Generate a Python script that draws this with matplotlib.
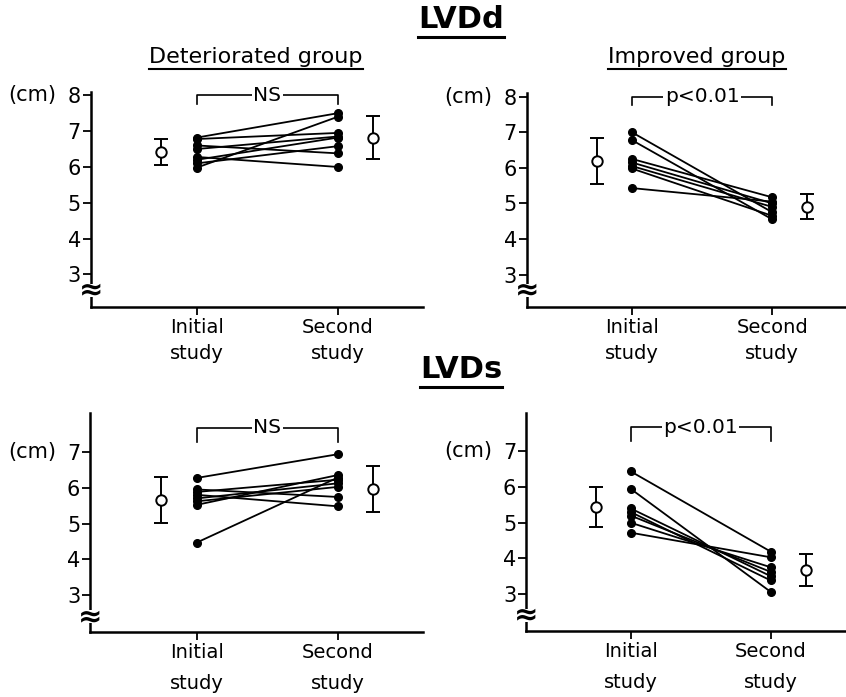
import numpy as np
import matplotlib.pyplot as plt
from matplotlib.lines import Line2D

# ---- data (cm) ----
groups = ['Deteriorated group', 'Improved group']
studies = ['Initial\nstudy', 'Second\nstudy']

lvdd_det_initial = [6.82, 5.98, 6.78, 6.50, 6.10, 6.60, 6.28, 6.20]
lvdd_det_second = [7.50, 7.40, 6.95, 6.85, 6.58, 6.38, 6.00, 6.82]
lvdd_det_mean = [6.41, 6.81]
lvdd_det_sd = [0.36, 0.60]

lvdd_imp_initial = [7.00, 6.78, 6.25, 6.15, 6.05, 5.98, 5.43]
lvdd_imp_second = [4.75, 4.55, 5.17, 5.00, 4.90, 4.65, 5.05]
lvdd_imp_mean = [6.20, 4.91]
lvdd_imp_sd = [0.65, 0.34]

lvds_det_initial = [6.27, 5.95, 5.88, 5.80, 5.70, 5.62, 5.52, 4.47]
lvds_det_second = [6.93, 5.74, 6.22, 5.48, 6.12, 6.02, 6.35, 6.28]
lvds_det_mean = [5.66, 5.96]
lvds_det_sd = [0.645, 0.63]

lvds_imp_initial = [6.44, 5.95, 5.40, 5.30, 5.20, 5.00, 4.72]
lvds_imp_second = [4.19, 3.06, 3.50, 3.38, 3.62, 3.75, 4.03]
lvds_imp_mean = [5.44, 3.67]
lvds_imp_sd = [0.565, 0.44]

sig_labels = ['NS', 'p<0.01']


def draw_panel(ax, initial, second, mean, sd, sig, ylim, yticks, br_top, br_bot,
               brk_y, xlim, lsp):
    for a, b in zip(initial, second):
        ax.plot([1, 2], [a, b], color='black', lw=1.3, marker='o', ms=5.5,
                mfc='black', mec='black', clip_on=False, zorder=3)
    ax.errorbar([0.75, 2.25], mean, yerr=sd, fmt='o', ms=7.5, mfc='white',
                mec='black', mew=1.4, ecolor='black', elinewidth=1.4,
                capsize=5, capthick=1.4, zorder=4)
    # bracket with significance label
    ax.plot([1, 1, 2, 2], [br_bot, br_top, br_top, br_bot], color='black',
            lw=1.2, clip_on=False)
    ax.text(1.5, br_top, sig, ha='center', va='center', fontsize=14.5,
            bbox=dict(facecolor='white', edgecolor='none', pad=1.0))
    ax.set_xlim(*xlim)
    ax.set_ylim(*ylim)
    ax.set_yticks(yticks)
    ax.set_yticklabels([str(t) for t in yticks], fontsize=15)
    ax.set_xticks([1, 2])
    ax.set_xticklabels(studies, fontsize=14, linespacing=lsp)
    ax.tick_params(axis='y', length=6, width=1.3, pad=1)
    ax.tick_params(axis='x', length=6, width=1.3, pad=2)
    for s in ['top', 'right']:
        ax.spines[s].set_visible(False)
    for s in ['left', 'bottom']:
        ax.spines[s].set_linewidth(1.8)
    ax.annotate('(cm)', xy=(0, yticks[-1]), xycoords=ax.get_yaxis_transform(),
                xytext=(-34, 0), textcoords='offset pixels', ha='right',
                va='center', fontsize=15)
    # axis break mark
    ax.text(0, brk_y, '≈', transform=ax.get_yaxis_transform(), ha='center',
            va='center', fontsize=21, fontweight='bold', zorder=5,
            bbox=dict(facecolor='white', edgecolor='none', pad=-5.5))


fig = plt.figure(figsize=(8.46, 6.97), dpi=100)

ax_tl = fig.add_axes([0.1072, 0.5600, 0.3928, 0.3084])
ax_tr = fig.add_axes([0.6226, 0.5600, 0.3774, 0.3066])
ax_bl = fig.add_axes([0.1064, 0.0928, 0.3936, 0.3142])
ax_br = fig.add_axes([0.6217, 0.0951, 0.3783, 0.3120])

draw_panel(ax_tl, lvdd_det_initial, lvdd_det_second, lvdd_det_mean, lvdd_det_sd,
           sig_labels[0], (2.1, 8.1), [3, 4, 5, 6, 7, 8], 8.0, 7.75, 2.55,
           (0.248, 2.605), 1.45)
draw_panel(ax_tr, lvdd_imp_initial, lvdd_imp_second, lvdd_imp_mean, lvdd_imp_sd,
           sig_labels[1], (2.1, 8.1), [3, 4, 5, 6, 7, 8], 8.0, 7.75, 2.55,
           (0.253, 2.524), 1.45)
draw_panel(ax_bl, lvds_det_initial, lvds_det_second, lvds_det_mean, lvds_det_sd,
           sig_labels[0], (1.97, 8.07), [3, 4, 5, 6, 7], 7.67, 7.28, 2.4,
           (0.243, 2.605), 1.8)
draw_panel(ax_br, lvds_imp_initial, lvds_imp_second, lvds_imp_mean, lvds_imp_sd,
           sig_labels[1], (1.97, 8.07), [3, 4, 5, 6, 7], 7.68, 7.29, 2.4,
           (0.252, 2.538), 1.8)

# titles
titles = []
titles.append(fig.text(461 / 846, 1 - 20 / 697, 'LVDd', ha='center', va='center',
                       fontsize=22, fontweight='heavy'))
titles.append(fig.text(461 / 846, 1 - 370 / 697, 'LVDs', ha='center', va='center',
                       fontsize=22, fontweight='heavy'))
titles.append(fig.text(256 / 846, 1 - 57 / 697, groups[0], ha='center',
                       va='center', fontsize=16))
titles.append(fig.text(697 / 846, 1 - 57 / 697, groups[1], ha='center',
                       va='center', fontsize=16))

fig.canvas.draw()
r = fig.canvas.get_renderer()
for t, lw in zip(titles, [2.2, 2.2, 1.5, 1.5]):
    bb = t.get_window_extent(r).transformed(fig.transFigure.inverted())
    y = bb.y0 - 2 / 697
    fig.add_artist(Line2D([bb.x0, bb.x1], [y, y], color='black', lw=lw,
                          transform=fig.transFigure))

fig.savefig('out.png', dpi=100)
